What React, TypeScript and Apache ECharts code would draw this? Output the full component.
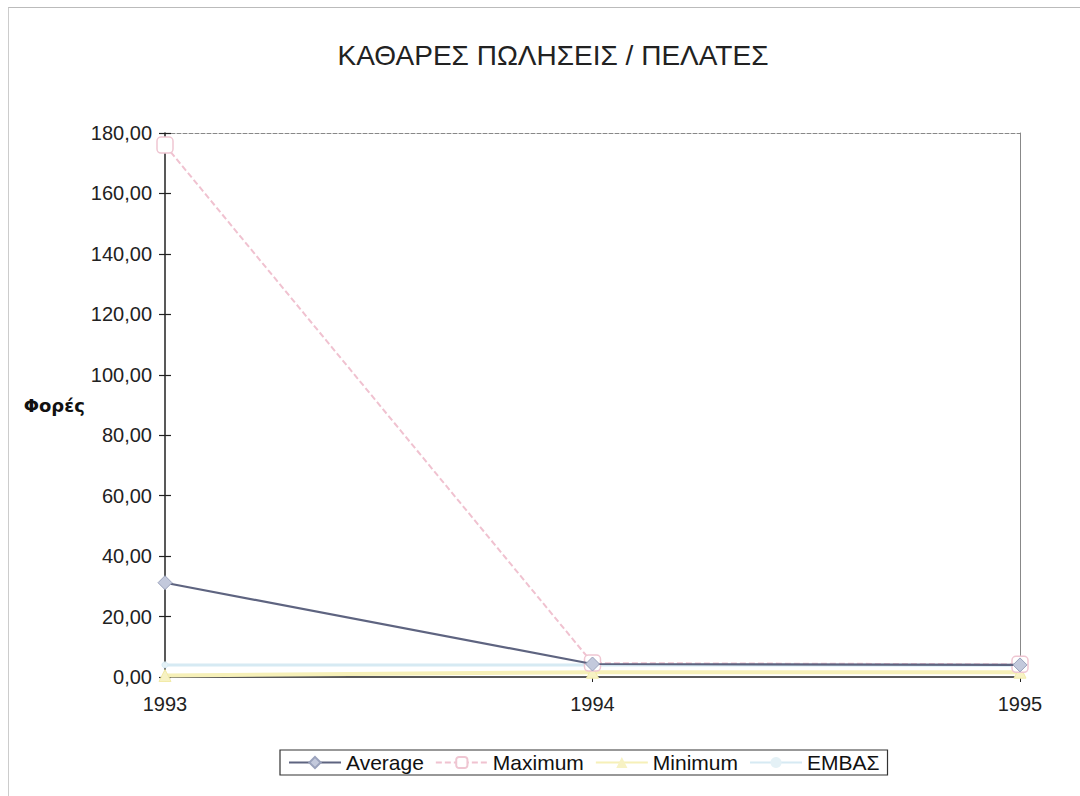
import React, { useEffect, useRef } from "react";
import * as echarts from "echarts";

const years = ["1993", "1994", "1995"];
const averageValues = [31.2, 4.3, 4.0];
const maximumValues = [176, 4.6, 4.2];
const minimumValues = [0.5, 1.6, 1.6];
const embasValues = [4.0, 4.0, 3.9];
const yTicks = { min: 0, max: 180, interval: 20 };

const FONT = "'Liberation Sans', Arial, sans-serif";

export default function App() {
  const ref = useRef<HTMLDivElement>(null);
  useEffect(() => {
    if (!ref.current) return;
    const chart = echarts.init(ref.current, undefined, { renderer: "svg" });
    const fmt = (v: number) => v.toFixed(2).replace(".", ",");
    chart.setOption({
      animation: false,
      backgroundColor: "#ffffff",
      textStyle: { fontFamily: FONT },
      title: {
        text: "ΚΑΘΑΡΕΣ ΠΩΛΗΣΕΙΣ / ΠΕΛΑΤΕΣ",
        left: 548,
        textAlign: "center",
        top: 36,
        textStyle: { fontFamily: FONT, fontSize: 28, fontWeight: "normal", color: "#222" },
      },
      legend: {
        left: 280,
        top: 750,
        orient: "horizontal",
        itemWidth: 52,
        itemHeight: 14,
        itemGap: 11,
        padding: [2, 8, 2, 8],
        borderColor: "#333",
        borderWidth: 1.2,
        textStyle: { fontFamily: FONT, fontSize: 21, color: "#111" },
        data: ["Average", "Maximum", "Minimum", "ΕΜΒΑΣ"],
      },
      grid: {
        left: 165,
        right: 60,
        top: 133,
        bottom: 119,
        containLabel: false,
        outerBoundsMode: "none",
      },
      xAxis: [
        {
          type: "category",
          data: years,
          boundaryGap: false,
          axisLine: { lineStyle: { color: "#222", width: 1.5 } },
          axisTick: { show: true, length: 5, lineStyle: { color: "#222" } },
          axisLabel: { fontFamily: FONT, fontSize: 20, color: "#222", margin: 17 },
        },
        {
          type: "category",
          data: years,
          position: "top",
          boundaryGap: false,
          axisLine: { show: true, onZero: false, lineStyle: { color: "#888", type: "dashed", width: 1 } },
          axisTick: { show: false },
          axisLabel: { show: false },
        },
      ],
      yAxis: [
        {
          type: "value",
          min: yTicks.min,
          max: yTicks.max,
          interval: yTicks.interval,
          name: "Φορές",
          nameLocation: "middle",
          nameRotate: 0,
          nameGap: 80,
          nameTextStyle: {
            fontFamily: "'DejaVu Sans', sans-serif",
            fontSize: 18,
            fontWeight: "bold",
            color: "#111",
            padding: [0, 0, 38, 0],
          },
          axisLine: { show: true, onZero: false, lineStyle: { color: "#222", width: 1.5 } },
          axisTick: { show: true, length: 6, lineStyle: { color: "#222", width: 1.2 } },
          splitLine: { show: false },
          axisLabel: { fontFamily: FONT, fontSize: 20, color: "#222", margin: 13, formatter: fmt },
        },
        {
          type: "value",
          min: yTicks.min,
          max: yTicks.max,
          interval: yTicks.interval,
          position: "left",
          axisLine: { show: false },
          axisTick: { show: true, inside: true, length: 6, lineStyle: { color: "#222", width: 1.2 } },
          splitLine: { show: false },
          axisLabel: { show: false },
        },
        {
          type: "value",
          min: yTicks.min,
          max: yTicks.max,
          interval: yTicks.interval,
          position: "right",
          axisLine: { show: true, onZero: false, lineStyle: { color: "#888", width: 1 } },
          axisTick: { show: false },
          splitLine: { show: false },
          axisLabel: { show: false },
        },
      ],
      series: [
        {
          name: "ΕΜΒΑΣ",
          type: "line",
          data: embasValues,
          symbol: "circle",
          symbolSize: 6,
          lineStyle: { color: "#d6eaf3", width: 3 },
          itemStyle: { color: "#e4f1f6", borderColor: "#d6eaf3" },
          z: 2,
        },
        {
          name: "Minimum",
          type: "line",
          data: minimumValues,
          symbol: "triangle",
          symbolSize: 12,
          lineStyle: { color: "#f6f0b8", width: 4 },
          itemStyle: { color: "#f7f2c4", borderColor: "#f2eba8" },
          z: 3,
        },
        {
          name: "Maximum",
          type: "line",
          data: maximumValues,
          symbol: "roundRect",
          symbolSize: 16,
          lineStyle: { color: "#f0c2d0", width: 2, type: [6, 3] },
          itemStyle: { color: "#ffffff", borderColor: "#efc6d2", borderWidth: 1.5 },
          z: 4,
        },
        {
          name: "Average",
          type: "line",
          data: averageValues,
          symbol: "diamond",
          symbolSize: 14,
          lineStyle: { color: "#5e6480", width: 2.2 },
          itemStyle: { color: "#c3c9dc", borderColor: "#9aa2bc", borderWidth: 1 },
          z: 5,
        },
      ],
    });
    return () => chart.dispose();
  }, []);
  return (
    <div style={{ position: "fixed", left: 0, top: 0, width: 1080, height: 796 }}>
      <div ref={ref} style={{ position: "absolute", left: 0, top: 0, width: 1080, height: 796 }} />
      <div
        style={{
          position: "absolute",
          left: 8,
          top: 7,
          right: 0,
          bottom: 0,
          borderTop: "1px solid #bbb",
          borderLeft: "1px solid #ccc",
          pointerEvents: "none",
        }}
      />
    </div>
  );
}
